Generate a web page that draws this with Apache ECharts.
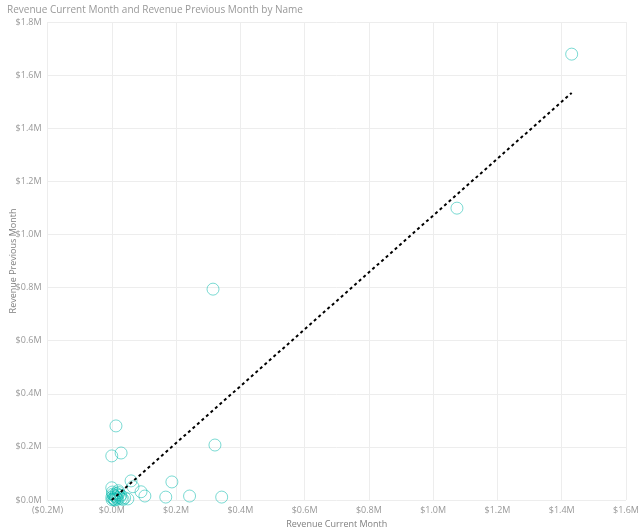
<!DOCTYPE html>
<html>
<head>
<meta charset="utf-8">
<script src="https://cdn.jsdelivr.net/npm/echarts@6/dist/echarts.min.js"></script>
<style>html,body{margin:0;padding:0;background:#fff;}#c{width:640px;height:531px;}</style>
</head>
<body>
<div id="c"></div>
<script>
// Values in millions of dollars
const revenueCurrent = [1.431, 1.074, 0.315, 0.321, 0.013, 0.029, 0.000, 0.187, 0.242, 0.342, 0.168, 0.103, 0.091, 0.060, 0.066, 0.000, 0.020, 0.050,
  0.000, 0.005, 0.010, 0.015, 0.020, 0.003, 0.008, 0.012, 0.018, 0.025, 0.030, 0.002, 0.022, 0.006, 0.028, 0.035, 0.014, 0.040, 0.001, 0.010];
const revenuePrevious = [1.679, 1.099, 0.794, 0.207, 0.279, 0.177, 0.166, 0.068, 0.015, 0.011, 0.011, 0.015, 0.031, 0.072, 0.050, 0.046, 0.035, 0.004,
  0.010, 0.005, 0.015, 0.008, 0.020, 0.022, 0.002, 0.012, 0.003, 0.010, 0.005, 0.030, 0.028, 0.018, 0.018, 0.002, 0.025, 0.008, 0.001, 0.000];
const trendX = [0.0, 1.431];
const trendY = [0.0, 1.533];
const xTicks = {min: -0.2, max: 1.6, interval: 0.2};
const yTicks = {min: 0, max: 1.8, interval: 0.2};

const fmt = v => {
  const a = Math.abs(v).toFixed(1);
  return v < -1e-9 ? '($' + a + 'M)' : '$' + a + 'M';
};
const font = "'Open Sans', 'Noto Sans', sans-serif";
const chart = echarts.init(document.getElementById('c'), null, {renderer: 'canvas'});
chart.setOption({
  animation: false,
  title: {text: 'Revenue Current Month and Revenue Previous Month by Name', left: 2, top: 0,
    textStyle: {fontSize: 10, fontWeight: 'normal', color: '#999', fontFamily: font}},
  grid: {left: 47.5, right: 14, top: 22, bottom: 31, containLabel: false, outerBoundsMode: 'none'},
  xAxis: {type: 'value', min: xTicks.min, max: xTicks.max, interval: xTicks.interval,
    name: 'Revenue Current Month', nameLocation: 'middle', nameGap: 20, nameMoveOverlap: false,
    nameTextStyle: {fontSize: 9, color: '#808080', fontFamily: font},
    axisLine: {show: false}, axisTick: {show: false},
    axisLabel: {formatter: fmt, fontSize: 9, color: '#999', fontFamily: font, margin: 6},
    splitLine: {lineStyle: {color: '#ededed'}}},
  yAxis: {type: 'value', min: yTicks.min, max: yTicks.max, interval: yTicks.interval,
    name: 'Revenue Previous Month', nameLocation: 'middle', nameGap: 30, nameMoveOverlap: false,
    nameTextStyle: {fontSize: 9, color: '#808080', fontFamily: font},
    axisLine: {show: false}, axisTick: {show: false},
    axisLabel: {formatter: fmt, fontSize: 9, color: '#999', fontFamily: font, margin: 6},
    splitLine: {lineStyle: {color: '#ededed'}}},
  series: [
    {type: 'scatter', symbol: 'circle', symbolSize: 12,
     data: revenueCurrent.map((x, i) => [x, revenuePrevious[i]]),
     itemStyle: {color: 'rgba(255,255,255,0)', borderColor: 'rgba(1,184,170,0.65)', borderWidth: 1}},
    {type: 'line', data: trendX.map((x, i) => [x, trendY[i]]), symbol: 'none', z: 5,
     lineStyle: {color: '#000', width: 2, type: [3, 3]}}
  ]
});
</script>
</body>
</html>
